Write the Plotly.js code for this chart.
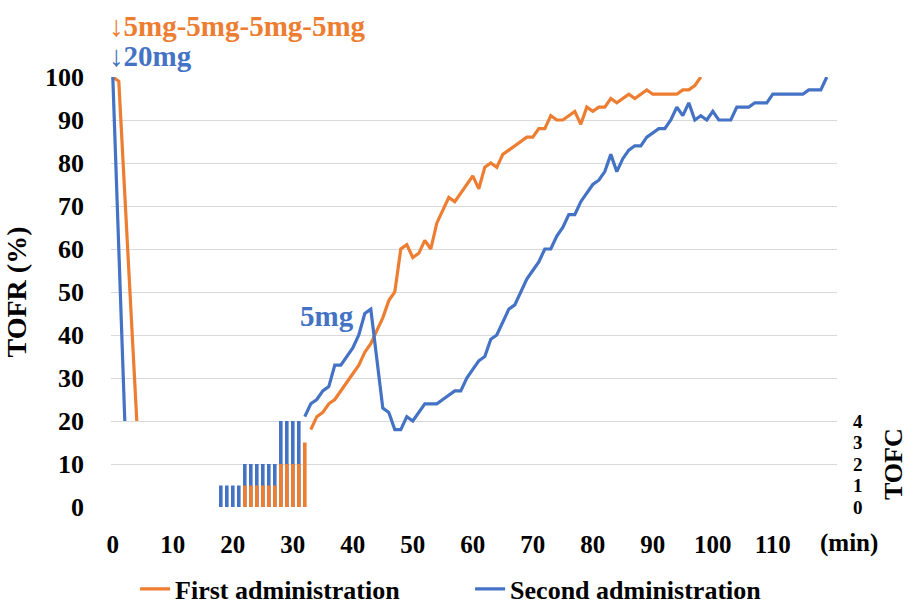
<!DOCTYPE html>
<html>
<head>
<meta charset="utf-8">
<script src="https://cdn.plot.ly/plotly-3.0.1.min.js"></script>
<style>html,body{margin:0;padding:0;background:#fff;}#chart{width:919px;height:606px;}</style>
</head>
<body>
<div id="chart"></div>
<script>
// ---- Data ----
var xTickVals = [0,10,20,30,40,50,60,70,80,90,100,110];
var xTickText = ['0','10','20','30','40','50','60','70','80','90','100','110'];
var yTickVals = [0,10,20,30,40,50,60,70,80,90,100];
var tofcTickVals = [0,1,2,3,4];

// First administration (orange)
var firstDropTime = [0,1,4];
var firstDropTOFR = [100,99,20];
var firstRecTime = [33,34,35,36,37,38,39,40,41,42,43,44,45,46,47,48,49,50,51,52,53,54,55,56,57,58,59,60,61,62,63,64,65,66,67,68,69,70,71,72,73,74,75,76,77,78,79,80,81,82,83,84,85,86,87,88,89,90,91,92,93,94,95,96,97,98];
var firstRecTOFR = [18,21,22,24,25,27,29,31,33,36,38,41,44,48,50,60,61,58,59,62,60,66,69,72,71,73,75,77,74,79,80,79,82,83,84,85,86,86,88,88,91,90,90,91,92,89,93,92,93,93,95,94,95,96,95,96,97,96,96,96,96,96,97,97,98,100];
var firstTOFCTime = [22,23,24,25,26,27,28,29,30,31,32];
var firstTOFC = [1,1,1,1,1,1,2,2,2,2,3];

// Second administration (blue)
var secondDropTime = [0,2];
var secondDropTOFR = [100,20];
var secondRecTime = [32,33,34,35,36,37,38,39,40,41,42,43,45,46,47,48,49,50,51,52,53,54,55,56,57,58,59,60,61,62,63,64,65,66,67,68,69,70,71,72,73,74,75,76,77,78,79,80,81,82,83,84,85,86,87,88,89,90,91,92,93,94,95,96,97,98,99,100,101,102,103,104,105,106,107,108,109,110,111,112,113,114,115,116,117,118,119];
var secondRecTOFR = [21,24,25,27,28,33,33,35,37,40,45,46,23,22,18,18,21,20,22,24,24,24,25,26,27,27,30,32,34,35,39,40,43,46,47,50,53,55,57,60,60,63,65,68,68,71,73,75,76,78,82,78,81,83,84,84,86,87,88,88,90,93,91,94,90,91,90,92,90,90,90,93,93,93,94,94,94,96,96,96,96,96,96,97,97,97,100];
var secondTOFCTime = [18,19,20,21,22,23,24,25,26,27,28,29,30,31];
var secondTOFC = [1,1,1,1,2,2,2,2,2,2,4,4,4,4];

var ORANGE = '#ED7D31';
var BLUE = '#4472C4';
var FONT = '"Liberation Serif", "Times New Roman", serif';

var traces = [
  {type:'bar', x: secondTOFCTime, y: secondTOFC, yaxis:'y2', width:0.6,
   marker:{color:BLUE, line:{width:0}}, showlegend:false, hoverinfo:'skip'},
  {type:'bar', x: firstTOFCTime, y: firstTOFC, yaxis:'y2', width:0.6,
   marker:{color:ORANGE, line:{width:0}}, showlegend:false, hoverinfo:'skip'},
  {type:'scatter', mode:'lines', x: firstDropTime, y: firstDropTOFR, name:'First administration',
   legendgroup:'first', line:{color:ORANGE, width:3.2}, cliponaxis:false},
  {type:'scatter', mode:'lines', x: firstRecTime, y: firstRecTOFR, name:'First administration',
   legendgroup:'first', showlegend:false, line:{color:ORANGE, width:3.2}, cliponaxis:false},
  {type:'scatter', mode:'lines', x: secondDropTime, y: secondDropTOFR, name:'Second administration',
   legendgroup:'second', line:{color:BLUE, width:3.2}, cliponaxis:false},
  {type:'scatter', mode:'lines', x: secondRecTime, y: secondRecTOFR, name:'Second administration',
   legendgroup:'second', showlegend:false, line:{color:BLUE, width:3.2}, cliponaxis:false}
];

var layout = {
  width: 919, height: 606,
  margin: {l:111, r:82, t:77, b:99},
  paper_bgcolor:'#fff', plot_bgcolor:'#fff',
  barmode:'overlay',
  font:{family:FONT, color:'#000'},
  xaxis:{range:[-0.3,120.7], tickvals:xTickVals, ticktext:xTickText, showgrid:false, zeroline:false,
         showline:false, ticks:'', ticklabelstandoff:20,
         tickfont:{family:FONT, size:25, weight:'bold', color:'#000'}},
  yaxis:{range:[0,100], tickvals:yTickVals, showgrid:true, gridcolor:'#d9d9d9', gridwidth:1,
         zeroline:false, showline:false, ticks:'', ticklabelstandoff:26,
         tickfont:{family:FONT, size:26, weight:'bold', color:'#000'},
         title:{text:'TOFR (%)', standoff:10, font:{family:FONT, size:28, weight:'bold', color:'#000'}}},
  yaxis2:{overlaying:'y', side:'right', range:[0,20], tickvals:tofcTickVals, showgrid:false,
          zeroline:false, showline:false, ticks:'', ticklabelstandoff:15,
          tickfont:{family:FONT, size:19, weight:'bold', color:'#000'}},
  legend:{orientation:'h', xref:'container', yref:'container', x:0.147, xanchor:'left', y:0.028, yanchor:'middle',
          font:{family:FONT, size:26, weight:'bold', color:'#000'}, itemwidth:30, entrywidth:290,
          traceorder:'normal', tracegroupgap:0},
  annotations:[
    {xref:'paper', yref:'paper', x:-0.005, y:1.0, yshift:51, xanchor:'left', yanchor:'middle', showarrow:false,
     text:'↓5mg-5mg-5mg-5mg', font:{family:FONT, size:29, weight:'bold', color:ORANGE}},
    {xref:'paper', yref:'paper', x:-0.005, y:1.0, yshift:21, xanchor:'left', yanchor:'middle', showarrow:false,
     text:'↓20mg', font:{family:FONT, size:29, weight:'bold', color:BLUE}},
    {xref:'x', yref:'y', x:30.8, y:44.5, xanchor:'left', yanchor:'middle', showarrow:false,
     text:'5mg', font:{family:FONT, size:29, weight:'bold', color:BLUE}},
    {xref:'paper', yref:'y', x:1.0, xshift:56, y:10, xanchor:'center', yanchor:'middle', showarrow:false,
     textangle:-90, text:'TOFC', font:{family:FONT, size:26, weight:'bold', color:'#000'}},
    {xref:'paper', yref:'paper', x:1.0, xshift:12, y:0, yshift:-36, xanchor:'center', yanchor:'middle', showarrow:false,
     text:'(min)', font:{family:FONT, size:25, weight:'bold', color:'#000'}}
  ]
};

Plotly.newPlot('chart', traces, layout, {displayModeBar:false, staticPlot:true});
</script>
</body>
</html>
